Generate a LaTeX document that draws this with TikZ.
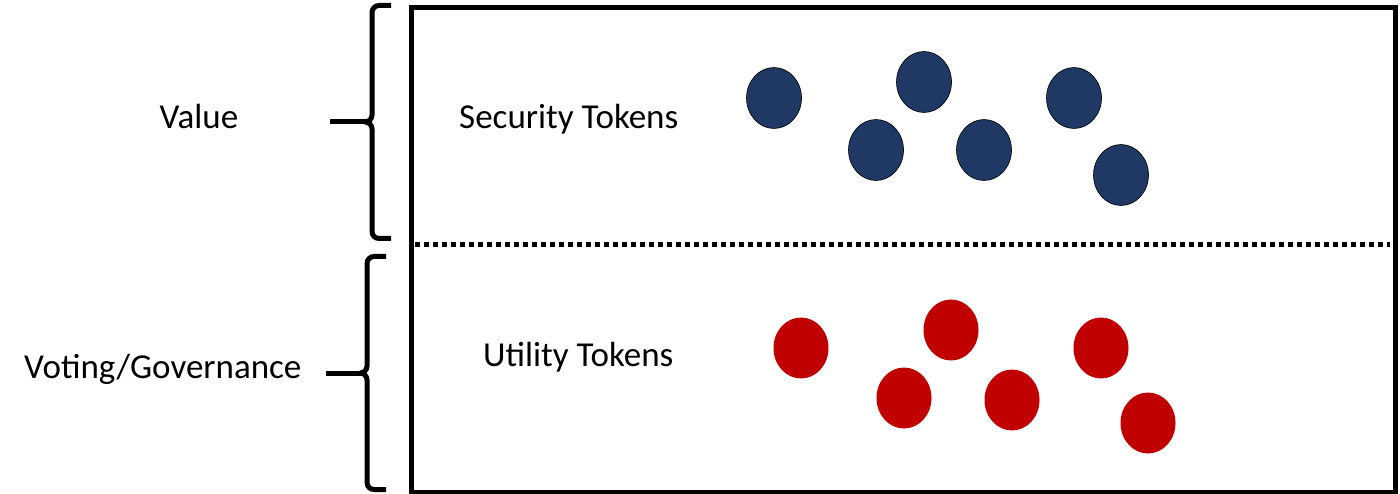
\documentclass[tikz,border=0pt]{standalone}
\usepackage{fontspec}
\setmainfont{Carlito}
\usetikzlibrary{shapes.geometric}
\definecolor{tokblue}{HTML}{203864}
\definecolor{tokred}{HTML}{C00000}
\begin{document}
\begin{tikzpicture}[x=1pt,y=-1pt,
  lbl/.style={font=\fontsize{35}{41}\selectfont, inner sep=0pt, anchor=base west},
  bluetok/.style={ellipse, fill=tokblue, draw=black, line width=0.6pt, minimum width=55pt, minimum height=61pt, inner sep=0pt},
  redtok/.style={ellipse, fill=tokred, draw=none, minimum width=55pt, minimum height=61pt, inner sep=0pt},
  bracestyle/.style={line width=5pt, line cap=butt, rounded corners=7pt}]
\useasboundingbox (0,0) rectangle (1400,494);
% frame
\node[draw, line width=5pt, minimum width=984pt, minimum height=485pt, inner sep=0pt, anchor=north west] (frame) at (409,5) {};
% dotted divider
\coordinate (dl) at (415,245);
\coordinate (dr) at (1390,245);
\draw[line width=5pt, dash pattern=on 4.5pt off 4.5pt] (dl) -- (dr);
% braces
\draw[bracestyle] (391,5.5) -- (372,5.5) -- (372,122) -- (370,122);
\draw[bracestyle] (391,238.5) -- (372,238.5) -- (372,122) -- (370,122);
\draw[line width=5pt] (330,122) -- (372,122);
\draw[bracestyle] (386,256.5) -- (367,256.5) -- (367,373) -- (365,373);
\draw[bracestyle] (386,489.5) -- (367,489.5) -- (367,373) -- (365,373);
\draw[line width=5pt] (326,373) -- (367,373);
% labels
\node[lbl, anchor=base] (value) at (199,129) {Value};
\node[lbl] (vote) at (24,378) {Voting/Governance};
\node[lbl] (sec) at (459,129) {Security Tokens};
\node[lbl] (util) at (483,366) {Utility Tokens};
% blue tokens
\node[bluetok] (b1) at (774,98) {};
\node[bluetok] (b2) at (924,82) {};
\node[bluetok] (b3) at (876,150) {};
\node[bluetok] (b4) at (984,150) {};
\node[bluetok] (b5) at (1074,98) {};
\node[bluetok] (b6) at (1121,175) {};
% red tokens
\node[redtok] (r1) at (801,348) {};
\node[redtok] (r2) at (951,330) {};
\node[redtok] (r3) at (904,398) {};
\node[redtok] (r4) at (1012,400) {};
\node[redtok] (r5) at (1101,348) {};
\node[redtok] (r6) at (1148,423) {};
\end{tikzpicture}
\end{document}
